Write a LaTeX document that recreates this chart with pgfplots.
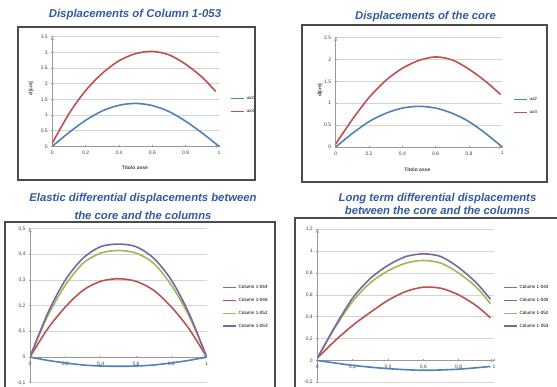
\documentclass[border=0pt]{standalone}
\usepackage{fontspec}
\setmainfont{Liberation Sans}
\usepackage{pgfplots}
\pgfplotsset{compat=1.18}
\definecolor{xlblue}{RGB}{79,129,189}
\definecolor{xlred}{RGB}{192,80,77}
\definecolor{xlgreen}{RGB}{155,187,89}
\definecolor{xlpurple}{RGB}{128,100,162}
\definecolor{ttl}{RGB}{52,90,160}
\definecolor{frm}{RGB}{75,75,75}
\pgfplotsset{
 xl/.style={
  scale only axis, anchor=south west,
  xmin=0, xmax=1, xtick={0,0.2,0.4,0.6,0.8,1},
  ymajorgrids, grid style={draw=black!17, line width=0.6pt},
  axis line style={draw=black!40, line width=0.6pt, -},
  tick style={draw=black!40, line width=0.5pt},
  major tick length=2pt, tick align=outside,
  tick label style={font=\fontsize{5}{6}\selectfont, text=black!75},
  /pgf/number format/assume math mode=true,
  legend style={draw=none, fill=none, font=\fontsize{4.6}{5}\selectfont, anchor=north west, row sep=4pt, inner sep=0pt},
  legend cell align=left,
  legend image code/.code={\draw[##1,line width=1.4pt] (0pt,0pt) -- (13pt,0pt);},
  every axis plot/.append style={line width=1.6pt, smooth, no marks},
  label style={font=\bfseries\fontsize{5}{6}\selectfont, text=black!75},
 }
}
\begin{document}
\begin{tikzpicture}
\path[use as bounding box] (0pt,0pt) rectangle (557pt,387pt);
\clip (0pt,0pt) rectangle (557pt,387pt);
\fill[white] (0pt,0pt) rectangle (557pt,387pt);
% frames
\draw[frm, line width=1.8pt] (18pt,360pt) rectangle (255pt,207pt);
\draw[frm, line width=1.8pt] (302pt,362pt) rectangle (547pt,205.3pt);
\draw[frm, line width=1.8pt] (5pt,165.3pt) rectangle (275pt,-10pt);
\draw[frm, line width=1.8pt] (295pt,168.7pt) rectangle (575pt,-10pt);
% titles
\node[ttl, font=\bfseries\itshape\fontsize{11.4}{13}\selectfont] at (135pt,372pt) {Displacements of Column 1-053};
\node[ttl, font=\bfseries\itshape\fontsize{11.3}{13}\selectfont] at (425.5pt,370pt) {Displacements of the core};
\node[ttl, font=\bfseries\itshape\fontsize{11.3}{13}\selectfont] at (143pt,188.7pt) {Elastic differential displacements between};
\node[ttl, font=\bfseries\itshape\fontsize{11.3}{13}\selectfont] at (143pt,171.3pt) {the core and the columns};
\node[ttl, font=\bfseries\itshape\fontsize{11.3}{13}\selectfont] at (437.5pt,188.7pt) {Long term differential displacements};
\node[ttl, font=\bfseries\itshape\fontsize{11.3}{13}\selectfont] at (437.5pt,176.3pt) {between the core and the columns};

% Panel 1
\begin{axis}[xl, at={(52.3pt,240.7pt)}, width=166.7pt, height=109.6pt,
  ymin=0, ymax=3.5, ytick={0,0.5,1,1.5,2,2.5,3,3.5},
  axis x line=bottom, axis y line=left,
  xlabel={Titolo asse}, ylabel={d[cm]},
  xlabel style={at={(axis description cs:0.496,-0.198)}, anchor=center},
  ylabel style={at={(axis description cs:-0.128,0.53)}, anchor=center},
  legend style={at={(axis description cs:1.066,0.477)}}]
\addplot[xlblue] coordinates {(0,0) (0.1,0.44) (0.2,0.83) (0.3,1.13) (0.4,1.31) (0.5,1.37) (0.6,1.30) (0.7,1.11) (0.8,0.80) (0.9,0.42) (1,0)};
\addlegendentry{ux2}
\addplot[xlred] coordinates {(0,0.1) (0.1,1.04) (0.2,1.78) (0.3,2.33) (0.4,2.73) (0.5,2.96) (0.6,3.03) (0.7,2.92) (0.8,2.62) (0.9,2.2) (0.98,1.75)};
\addlegendentry{ux3}
\end{axis}

% Panel 2
\begin{axis}[xl, at={(335.7pt,240pt)}, width=166.6pt, height=109.3pt,
  ymin=0, ymax=2.5, ytick={0,0.5,1,1.5,2,2.5},
  axis x line=bottom, axis y line=left,
  xlabel={Titolo asse}, ylabel={d[cm]},
  xlabel style={at={(axis description cs:0.49,-0.21)}, anchor=center},
  ylabel style={at={(axis description cs:-0.094,0.52)}, anchor=center},
  legend style={at={(axis description cs:1.064,0.476)}}]
\addplot[xlblue] coordinates {(0,0) (0.1,0.31) (0.2,0.58) (0.3,0.77) (0.4,0.89) (0.5,0.93) (0.6,0.89) (0.7,0.77) (0.8,0.58) (0.9,0.31) (1,0)};
\addlegendentry{ux2}
\addplot[xlred] coordinates {(0,0.07) (0.1,0.63) (0.2,1.13) (0.3,1.52) (0.4,1.8) (0.5,1.98) (0.6,2.06) (0.7,1.99) (0.8,1.78) (0.9,1.5) (0.99,1.2)};
\addlegendentry{ux3}
\end{axis}

% Panel 3
\begin{axis}[xl, at={(30pt,4.3pt)}, width=176.7pt, height=154pt,
  ymin=-0.1, ymax=0.5, ytick={-0.1,0,0.1,0.2,0.3,0.4,0.5},
  axis x line=middle, axis y line=left,
  hide obscured x ticks=false, hide obscured y ticks=false,
  /pgf/number format/use comma,
  legend style={at={(axis description cs:1.087,0.647)}}]
\addplot[xlblue] coordinates {(0,0) (0.1,-0.013) (0.2,-0.023) (0.3,-0.031) (0.4,-0.035) (0.5,-0.036) (0.6,-0.035) (0.7,-0.031) (0.8,-0.023) (0.9,-0.013) (1,0)};
\addlegendentry{Column 1-044}
\addplot[xlred] coordinates {(0,0) (0.1,0.11) (0.2,0.195) (0.3,0.26) (0.4,0.295) (0.5,0.305) (0.6,0.295) (0.7,0.26) (0.8,0.195) (0.9,0.11) (1,0)};
\addlegendentry{Column 1-046}
\addplot[xlgreen] coordinates {(0,0) (0.1,0.16) (0.2,0.28) (0.3,0.365) (0.4,0.405) (0.5,0.415) (0.6,0.405) (0.7,0.365) (0.8,0.28) (0.9,0.16) (1,0)};
\addlegendentry{Column 1-052}
\addplot[xlpurple] coordinates {(0,0) (0.1,0.17) (0.2,0.3) (0.3,0.385) (0.4,0.43) (0.5,0.44) (0.6,0.43) (0.7,0.385) (0.8,0.3) (0.9,0.17) (1,0)};
\addlegendentry{Column 1-053}
\end{axis}

% Panel 4
\begin{axis}[xl, at={(317.3pt,4.7pt)}, width=176.7pt, height=153pt,
  ymin=-0.2, ymax=1.2, ytick={-0.2,0,0.2,0.4,0.6,0.8,1,1.2},
  axis x line=middle, axis y line=left,
  hide obscured x ticks=false, hide obscured y ticks=false,
  /pgf/number format/use comma,
  legend style={at={(axis description cs:1.051,0.649)}}]
\addplot[xlblue] coordinates {(0,0) (0.2,-0.045) (0.4,-0.075) (0.6,-0.09) (0.8,-0.08) (0.98,-0.055)};
\addlegendentry{Column 1-044}
\addplot[xlred] coordinates {(0,0.02) (0.1,0.18) (0.2,0.32) (0.3,0.44) (0.4,0.55) (0.5,0.63) (0.6,0.67) (0.7,0.66) (0.8,0.6) (0.9,0.5) (0.98,0.39)};
\addlegendentry{Column 1-045}
\addplot[xlgreen] coordinates {(0,0.02) (0.1,0.3) (0.2,0.54) (0.3,0.71) (0.4,0.82) (0.5,0.89) (0.6,0.915) (0.7,0.89) (0.8,0.8) (0.9,0.67) (0.98,0.52)};
\addlegendentry{Column 1-052}
\addplot[xlpurple] coordinates {(0,0.02) (0.1,0.31) (0.2,0.57) (0.3,0.75) (0.4,0.87) (0.5,0.95) (0.6,0.975) (0.7,0.95) (0.8,0.85) (0.9,0.71) (0.98,0.56)};
\addlegendentry{Column 1-053}
\end{axis}
\end{tikzpicture}
\end{document}
